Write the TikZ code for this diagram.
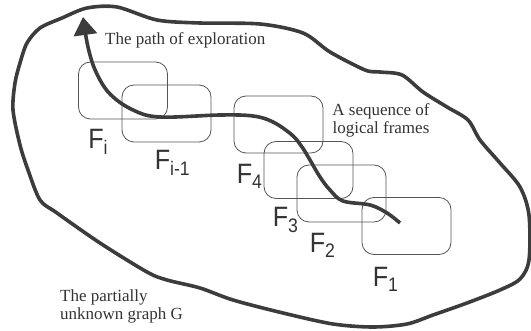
\documentclass[tikz,border=0pt]{standalone}
\usepackage{fontspec}
\setmainfont{Liberation Serif}
\newfontfamily\labelfamily[FakeStretch=0.9]{Liberation Sans}
\usetikzlibrary{arrows.meta, positioning}
\definecolor{linegray}{HTML}{3C3C3C}
\definecolor{framegray}{HTML}{555555}
\definecolor{textgray}{HTML}{333333}

\begin{document}
\begin{tikzpicture}[
  x=1pt, y=-1pt,
  frame/.style={rectangle, rounded corners=12pt, draw=framegray, line width=0.8pt, minimum width=89pt, minimum height=57pt},
  flabel/.style={font=\labelfamily\fontsize{28}{30}\selectfont, text=textgray, anchor=base west, inner sep=0pt},
  note/.style={font=\fontsize{17}{18.5}\selectfont, text=textgray, inner sep=0pt},
  border/.style={line width=3.6pt, draw=linegray},
  explore/.style={-{Triangle[length=18pt, width=23pt]}, line width=3.6pt, draw=linegray},
]
\useasboundingbox (0,0) rectangle (531,331);

% the partially unknown graph
\draw[border] plot[smooth cycle, tension=0.5] coordinates {
  (13,110) (15,83) (20,63) (27,43) (40,28) (62,18) (87,8) (117,7)
  (157,20) (200,23) (260,24) (303,33) (330,52) (365,70) (380,72)
  (402,75) (423,92) (447,107) (468,120) (480,140) (500,163) (520,187)
  (529,215) (529,260) (520,279) (500,290) (467,303) (433,315) (407,324)
  (373,327) (333,324) (283,313) (233,300) (200,288) (167,280) (147,272)
  (100,243) (57,213) (40,200) (28,170) (20,145)};

% logical frames
\node[frame] (fi)   at (123,90.5)  {};
\node[frame] (fim1) at (166.5,113.5) {};
\node[frame] (f4)   at (278.5,124.5) {};
\node[frame] (f3)   at (308.5,170) {};
\node[frame] (f2)   at (341.5,193.5) {};
\node[frame] (f1)   at (406.5,226) {};

\node[flabel] (lfi)   at ([shift={(10,29)}]fi.south west)   {F\textsubscript{i}};
\node[flabel] (lfim1) at ([shift={(33,27)}]fim1.south west) {F\textsubscript{i-1}};
\node[flabel] (lf4)   at ([shift={(3,30)}]f4.south west)    {F\textsubscript{4}};
\node[flabel] (lf3)   at ([shift={(9,28)}]f3.south west)    {F\textsubscript{3}};
\node[flabel] (lf2)   at ([shift={(13,30)}]f2.south west)   {F\textsubscript{2}};
\node[flabel] (lf1)   at ([shift={(11,32)}]f1.south west)   {F\textsubscript{1}};

% path of exploration
\coordinate (start) at (400,223);
\coordinate (tip) at (83,17);
\draw[explore] plot[smooth, tension=0.6] coordinates {
  (start) (387,213) (370,205) (343,201) (330,190) (320,177) (310,160)
  (302,147) (292,135) (273,122) (253,116) (220,115) (160,117) (133,110)
  (110,94) (96,72) (88,47) (tip)};

% texts (base = last line)
\node[note, anchor=base west] (pathtxt) at (105,45) {The path of exploration};
\node[note, align=center, anchor=base] (seqtxt) at (381,134) {A sequence of\\logical frames};
\node[note, align=left, anchor=base west] (graphtxt) at (60,320) {The partially\\unknown graph G};
\end{tikzpicture}
\end{document}
